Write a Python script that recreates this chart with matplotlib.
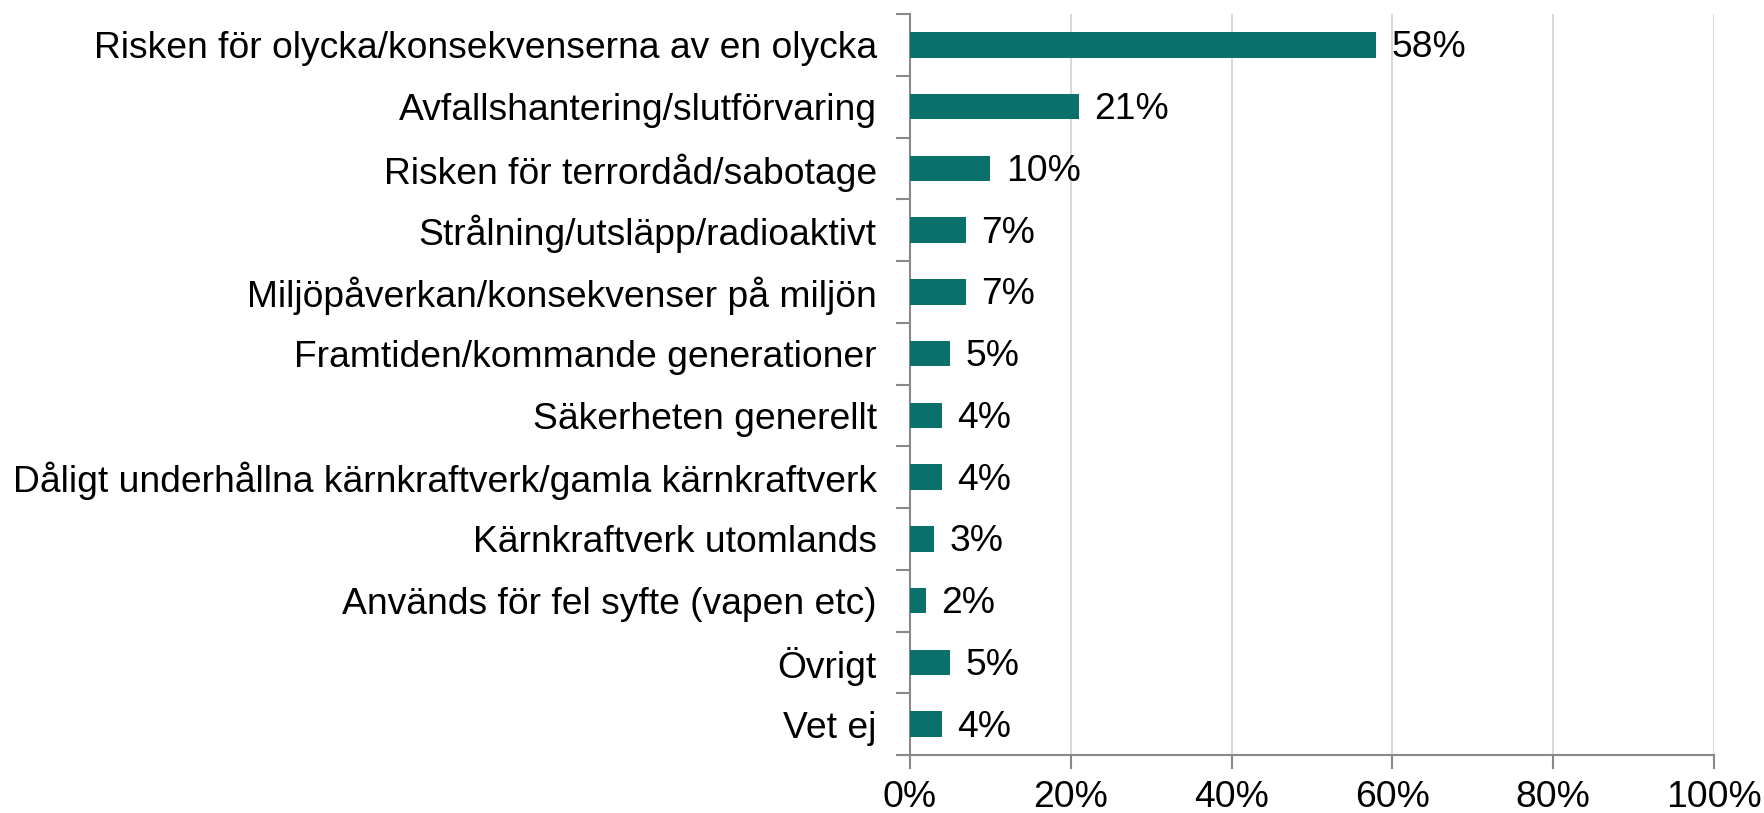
import matplotlib.pyplot as plt
from matplotlib.ticker import MultipleLocator, FuncFormatter

plt.rcParams['font.family'] = ['Liberation Sans', 'DejaVu Sans']

categories = [
    "Risken för olycka/konsekvenserna av en olycka",
    "Avfallshantering/slutförvaring",
    "Risken för terrordåd/sabotage",
    "Strålning/utsläpp/radioaktivt",
    "Miljöpåverkan/konsekvenser på miljön",
    "Framtiden/kommande generationer",
    "Säkerheten generellt",
    "Dåligt underhållna kärnkraftverk/gamla kärnkraftverk",
    "Kärnkraftverk utomlands",
    "Används för fel syfte (vapen etc)",
    "Övrigt",
    "Vet ej",
]
values = [58, 21, 10, 7, 7, 5, 4, 4, 3, 2, 5, 4]

bar_color = '#0A706C'
axis_color = '#898989'
grid_color = '#D9D9D9'
fs = 26.8

fig = plt.figure(figsize=(17.65, 8.13), dpi=100)
ax = fig.add_axes([910 / 1765, 1 - 755 / 813, 804 / 1765, 741 / 813])

n = len(categories)
ypos = list(range(n))
ax.barh(ypos, values, height=0.41, color=bar_color, zorder=3)
for y, v in zip(ypos, values):
    ax.text(v + 1.9, y + 0.05, f"{v}%", va='center', ha='left', fontsize=fs, color='black')

ax.set_xlim(0, 100)
ax.set_ylim(n - 0.5, -0.5)
ax.xaxis.set_major_locator(MultipleLocator(20))
ax.xaxis.set_major_formatter(FuncFormatter(lambda x, p: f"{x:.0f}%"))
ax.grid(axis='x', color=grid_color, linewidth=1.5, zorder=0)

# category labels without ticks; ticks at category boundaries
ax.set_yticks(ypos)
ax.set_yticklabels(categories, fontsize=fs)
ax.tick_params(axis='y', length=0, pad=24)
ax.set_yticks([i - 0.5 for i in range(n + 1)], minor=True)
ax.tick_params(axis='y', which='minor', length=10, width=1.5, color=axis_color)
ax.tick_params(axis='x', length=10, width=1.5, color=axis_color, labelsize=fs, pad=8)

for s in ['top', 'right']:
    ax.spines[s].set_visible(False)
for s in ['left', 'bottom']:
    ax.spines[s].set_color(axis_color)
    ax.spines[s].set_linewidth(1.5)

fig.savefig('out.png', dpi=100)
